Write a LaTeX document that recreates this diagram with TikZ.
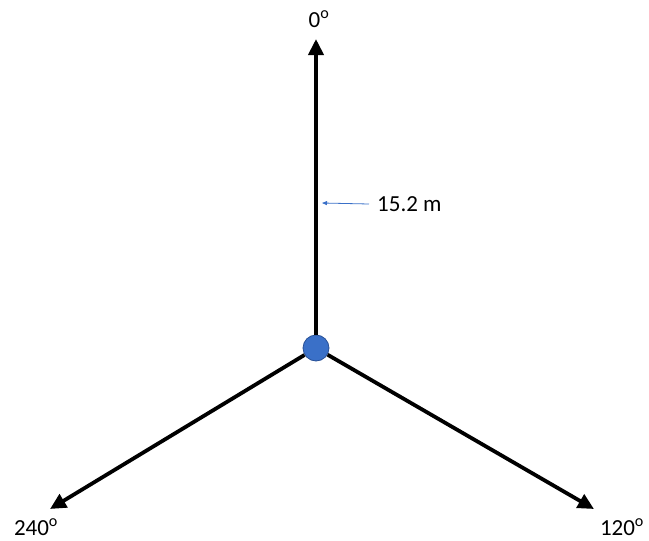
\documentclass[tikz,border=0pt]{standalone}
\usepackage{fontspec}
\setmainfont{Carlito}
\usetikzlibrary{arrows.meta}

\definecolor{dotblue}{RGB}{58,112,200}
\definecolor{dotedge}{RGB}{40,80,150}

\begin{document}
\begin{tikzpicture}[
  x=1pt,y=-1pt,
  leg/.style={line width=3.8pt,-{Triangle[length=16pt,width=15pt]}},
  deg/.style={font=\fontsize{23}{27}\selectfont,inner sep=0pt}
]
  \useasboundingbox (0,0) rectangle (649,541);
  \node[circle,fill=dotblue,draw=dotedge,line width=0.8pt,minimum size=26pt,inner sep=0pt] (hub) at (316,348) {};
  \coordinate (top) at (316,39);
  \coordinate (right) at (594,509);
  \coordinate (left) at (50,509);
  \draw[leg] (hub) -- (top);
  \draw[leg] (hub) -- (right);
  \draw[leg] (hub) -- (left);
  \node[deg] (deg0) at (319,19) {0\textsuperscript{o}};
  \node[deg] (deg120) at (622,527) {120\textsuperscript{o}};
  \node[deg] (deg240) at (36,527) {240\textsuperscript{o}};
  % length of the leg
  \coordinate (mark) at (322,203);
  \node[deg,anchor=west,inner xsep=8pt] (len) at (369,204) {15.2 m};
  \draw[dotblue,line width=0.8pt,-{Triangle[length=5pt,width=4pt]}] (len.west) -- (mark);
\end{tikzpicture}
\end{document}
